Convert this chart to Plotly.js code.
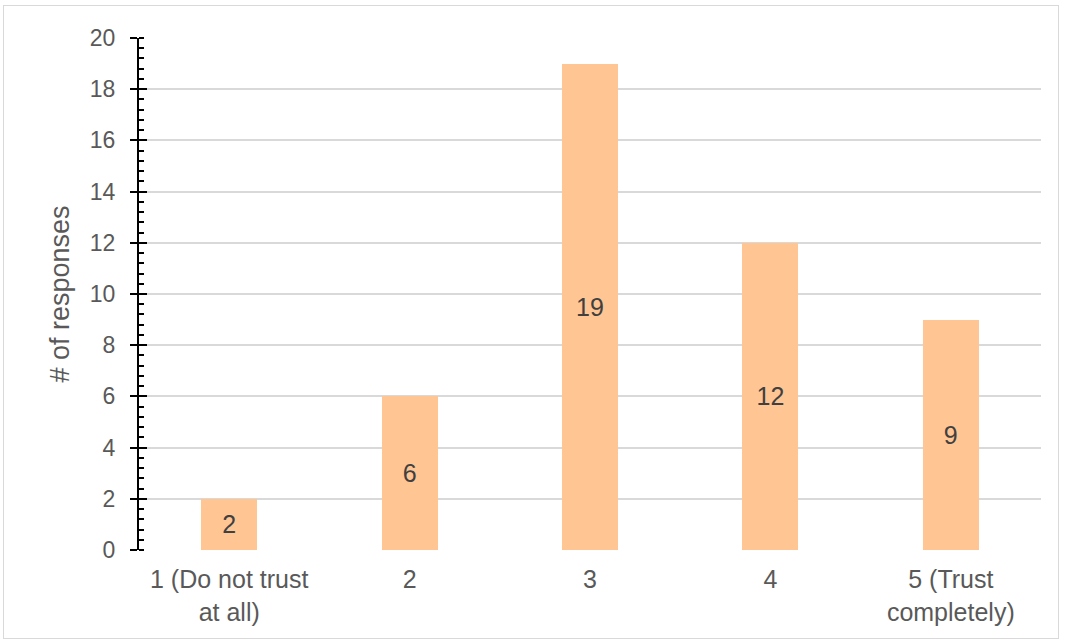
<!DOCTYPE html>
<html><head><meta charset="utf-8">
<script src="https://cdn.plot.ly/plotly-3.0.1.min.js"></script>
<style>
html,body{margin:0;padding:0;background:#fff;}
#frame{position:absolute;left:3px;top:5px;width:1056px;height:634px;border:1px solid #d9d9d9;box-sizing:border-box;}
#chart{position:absolute;left:0;top:0;width:1065px;height:643px;}
</style></head>
<body><div id="frame"></div><div id="chart"></div>
<script>
const categories = ["1 (Do not trust<br>at all)", "2", "3", "4", "5 (Trust<br>completely)"];
const responses = [2, 6, 19, 12, 9];
const yTicks = [0, 2, 4, 6, 8, 10, 12, 14, 16, 18, 20];

const fam = "Liberation Sans, Arial, sans-serif";
const gray = "#595959";
const trace = {
  type: "bar", x: categories, y: responses,
  marker: {color: "#FFC593"}, width: 0.31,
  text: responses.map(String), textposition: "inside", insidetextanchor: "middle",
  textfont: {family: fam, size: 25, color: "#404040"},
  hoverinfo: "none", cliponaxis: false
};
const layout = {
  width: 1065, height: 643,
  margin: {l: 139, r: 24, t: 38, b: 93, pad: 0},
  paper_bgcolor: "rgba(0,0,0,0)", plot_bgcolor: "rgba(0,0,0,0)",
  showlegend: false, bargap: 0,
  font: {family: fam, size: 24, color: gray},
  xaxis: {type: "category", showgrid: false, zeroline: false, showline: false,
    ticks: "", tickfont: {family: fam, size: 25, color: gray}, ticklabelstandoff: 12},
  yaxis: {range: [0, 20], tickvals: yTicks, ticktext: yTicks.map(String),
    showgrid: true, gridcolor: "#d9d9d9", gridwidth: 2, zeroline: false,
    showline: true, linecolor: "#000", linewidth: 2,
    ticks: "outside", ticklen: 7, tickwidth: 2, tickcolor: "#000",
    tickfont: {family: fam, size: 23, color: gray}, ticklabelstandoff: 10,
    minor: {dtick: 0.4, ticks: "inside", ticklen: 5, tickwidth: 2, tickcolor: "#000", showgrid: false},
    title: {text: "# of responses", font: {family: fam, size: 27, color: gray}, standoff: 12}},
  yaxis2: {range: [0, 20], overlaying: "y", tickvals: yTicks, showticklabels: false,
    showgrid: false, zeroline: false, showline: false,
    ticks: "inside", ticklen: 8, tickwidth: 2, tickcolor: "#000"}
};
const helper = {type: "scatter", x: [categories[0]], y: [0], yaxis: "y2", mode: "markers",
  marker: {opacity: 0}, hoverinfo: "none"};
Plotly.newPlot("chart", [trace, helper], layout, {staticPlot: true});
</script></body></html>
